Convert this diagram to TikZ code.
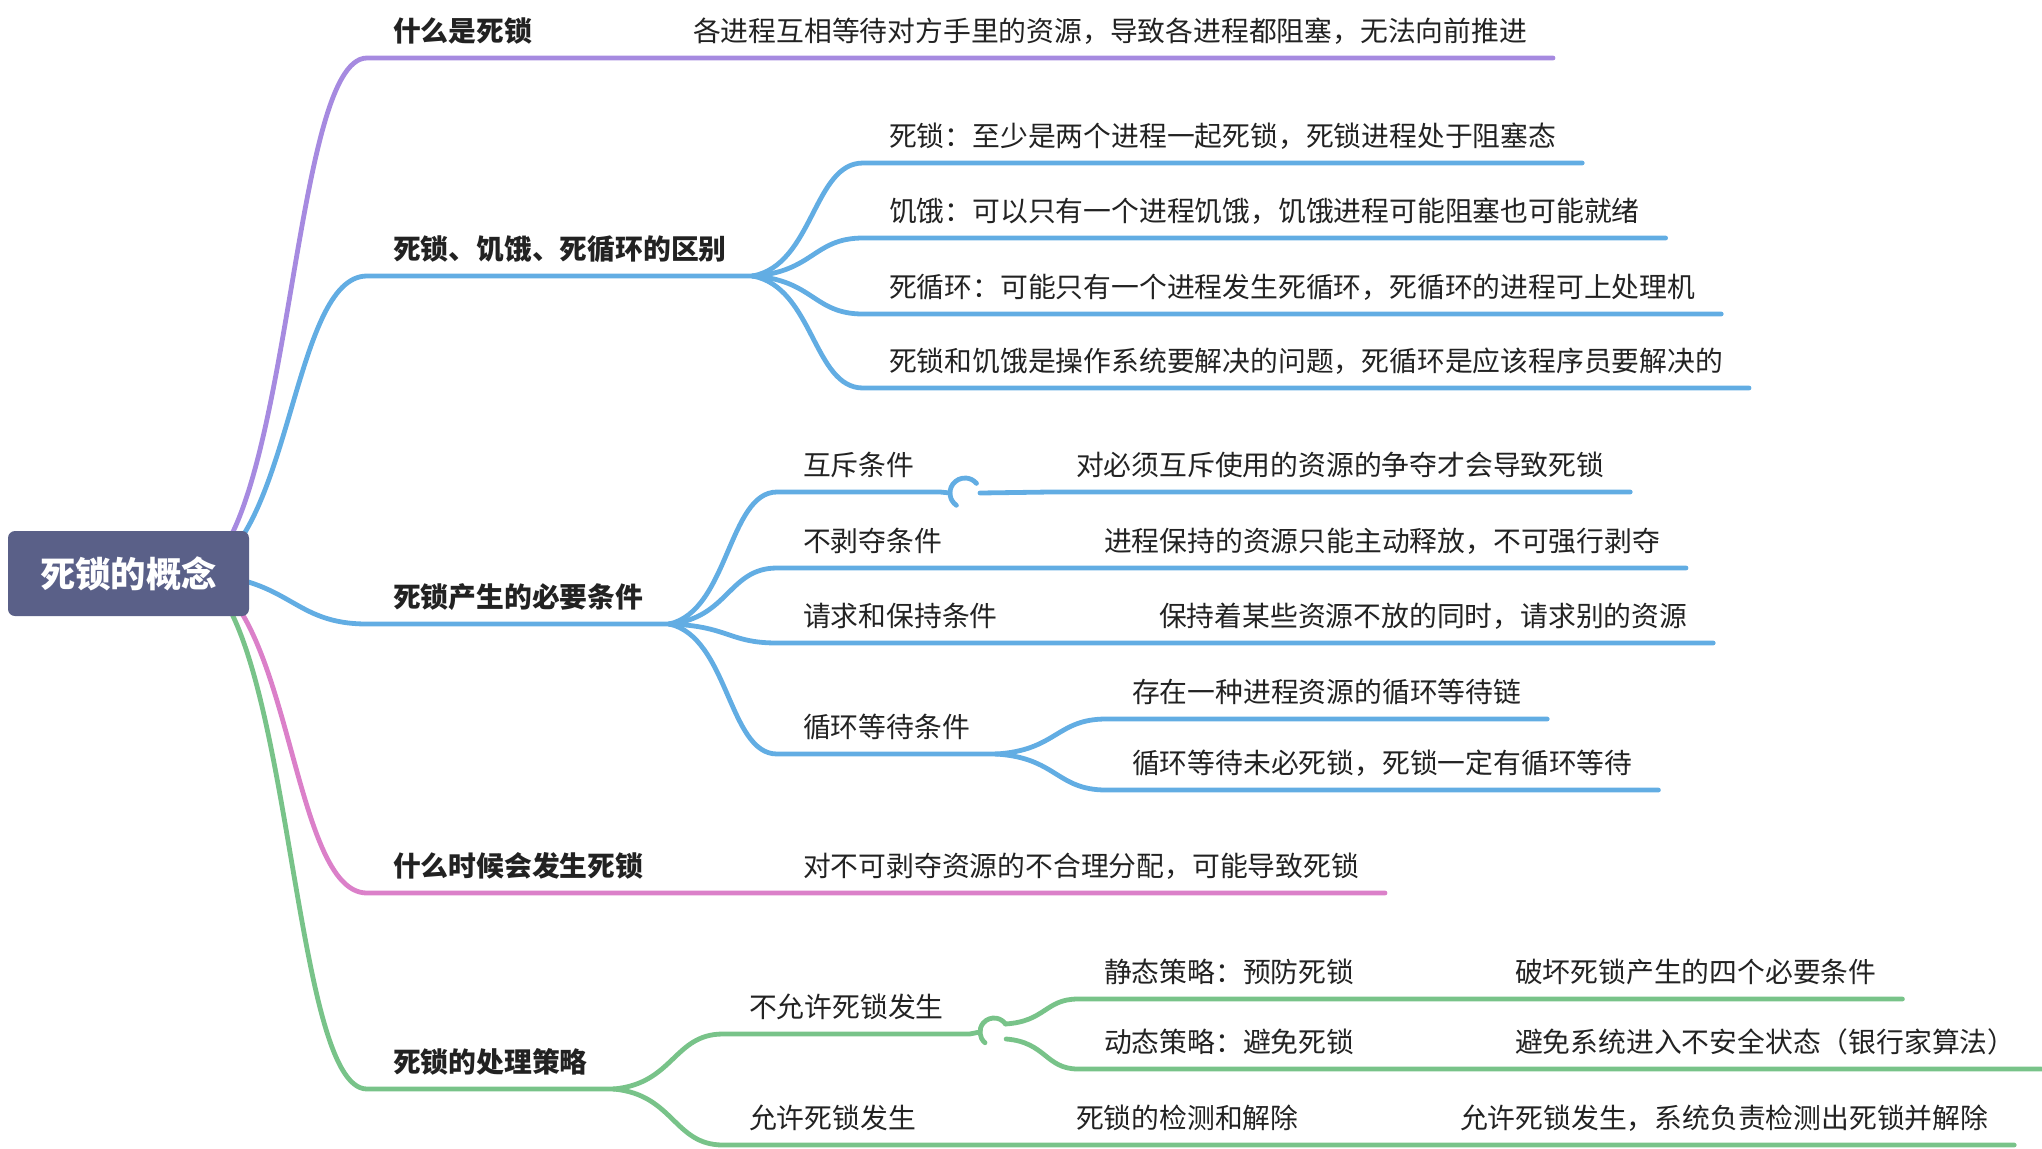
\documentclass[tikz,border=0pt]{standalone}
\usepackage{fontspec}
\setmainfont{Noto Sans CJK SC}
\usetikzlibrary{calc}

\definecolor{rootfill}{HTML}{5A6088}
\definecolor{purplebr}{HTML}{A68AE0}
\definecolor{bluebr}{HTML}{62ADE3}
\definecolor{pinkbr}{HTML}{DB80C9}
\definecolor{greenbr}{HTML}{78C389}
\definecolor{ink}{HTML}{222222}

\begin{document}
\begin{tikzpicture}[
  x=0.5pt,
  y=-0.5pt,
  branch/.style={line width=2.4pt, line cap=round, line join=round},
  purpleline/.style={branch, draw=purplebr},
  blueline/.style={branch, draw=bluebr},
  pinkline/.style={branch, draw=pinkbr},
  greenline/.style={branch, draw=greenbr},
  swoop/.style={to path={let \p1=(\tikztostart), \p2=(\tikztotarget) in
    .. controls ({\x1+0.55*(\x2-\x1)},{\y1+0.1*(\y2-\y1)})
       and ({\x1+0.55*(\x2-\x1)},\y2) .. (\tikztotarget)}},
  topic/.style={
    anchor=south west,
    inner xsep=13pt,
    inner ysep=8.5pt,
    outer sep=0pt,
    text depth=0pt,
    text=ink,
    font=\fontsize{13.9}{16}\selectfont
  },
  head/.style={topic, font=\fontsize{13.9}{16}\selectfont\bfseries},
  rootbox/.style={
    rounded corners=3.5pt,
    fill=rootfill,
    minimum width=120.5pt,
    minimum height=42.5pt,
    inner sep=0pt,
    text=white,
    font=\fontsize{17.7}{20}\selectfont\bfseries
  }
]
\useasboundingbox (0,0) rectangle (2042,1148);

% Coordinates are in pixels of the 2042x1148 layout, y grows downwards.
% Each topic node sits on its own underline (south west to south east).

\coordinate (hub)   at (200,574);
\coordinate (jumpa) at (965,493);
\coordinate (jumpb) at (994,1032);

\node[head] (what)   at (367,58)   {什么是死锁};
\node[head] (diff)   at (367,276)  {死锁、饥饿、死循环的区别};
\node[head] (cond)   at (367,624)  {死锁产生的必要条件};
\node[head] (when)   at (367,893)  {什么时候会发生死锁};
\node[head] (handle) at (367,1089) {死锁的处理策略};

\node[topic] (whatd) at (667,58) {各进程互相等待对方手里的资源，导致各进程都阻塞，无法向前推进};

\node[topic] (dead)   at (863,163) {死锁：至少是两个进程一起死锁，死锁进程处于阻塞态};
\node[topic] (starve) at (863,238) {饥饿：可以只有一个进程饥饿，饥饿进程可能阻塞也可能就绪};
\node[topic] (loop)   at (863,314) {死循环：可能只有一个进程发生死循环，死循环的进程可上处理机};
\node[topic] (who)    at (863,388) {死锁和饥饿是操作系统要解决的问题，死循环是应该程序员要解决的};

\node[topic] (mutex)   at (777,492)  {互斥条件};
\node[topic] (mutexd)  at (1050,492) {对必须互斥使用的资源的争夺才会导致死锁};
\node[topic] (nopre)   at (777,568)  {不剥夺条件};
\node[topic] (nopred)  at (1078,568) {进程保持的资源只能主动释放，不可强行剥夺};
\node[topic] (hold)    at (777,643)  {请求和保持条件};
\node[topic] (holdd)   at (1133,643) {保持着某些资源不放的同时，请求别的资源};
\node[topic] (circ)    at (777,754)  {循环等待条件};
\node[topic] (chain)   at (1106,719) {存在一种进程资源的循环等待链};
\node[topic] (notsure) at (1106,790) {循环等待未必死锁，死锁一定有循环等待};

\node[topic] (whend) at (777,893) {对不可剥夺资源的不合理分配，可能导致死锁};

\node[topic] (forbid)   at (723,1034)  {不允许死锁发生};
\node[topic] (static)   at (1078,999)  {静态策略：预防死锁};
\node[topic] (staticd)  at (1489,999)  {破坏死锁产生的四个必要条件};
\node[topic] (dynamic)  at (1078,1069) {动态策略：避免死锁};
\node[topic] (dynamicd) at (1489,1069) {避免系统进入不安全状态（银行家算法）};
\node[topic] (allow)    at (723,1145)  {允许死锁发生};
\node[topic] (detect)   at (1050,1145) {死锁的检测和解除};
\node[topic] (detectd)  at (1434,1145) {允许死锁发生，系统负责检测出死锁并解除};

% what
\draw[purpleline] (hub) to[swoop] (what.south west) -- (what.south east)
  -- (whatd.south west) -- (whatd.south east);

% differences
\draw[blueline] (hub) to[swoop] (diff.south west) -- (diff.south east);
\draw[blueline] (diff.south east) to[swoop] (dead.south west) -- (dead.south east);
\draw[blueline] (diff.south east) to[swoop] (starve.south west) -- (starve.south east);
\draw[blueline] (diff.south east) to[swoop] (loop.south west) -- (loop.south east);
\draw[blueline] (diff.south east) to[swoop] (who.south west) -- (who.south east);

% conditions
\draw[blueline] (hub) to[swoop] (cond.south west) -- (cond.south east);
\draw[blueline] (cond.south east) to[swoop] (mutex.south west) -- (mutex.south east)
  -- ([xshift=-7.5pt]jumpa);
\draw[blueline] (jumpa) ++(235:7.5pt) arc[start angle=235, end angle=40, radius=7.5pt];
\draw[blueline] ([xshift=7.5pt]jumpa) -- (mutexd.south west) -- (mutexd.south east);
\draw[blueline] (cond.south east) to[swoop] (nopre.south west) -- (nopre.south east)
  -- (nopred.south west) -- (nopred.south east);
\draw[blueline] (cond.south east) to[swoop] (hold.south west) -- (hold.south east)
  -- (holdd.south west) -- (holdd.south east);
\draw[blueline] (cond.south east) to[swoop] (circ.south west) -- (circ.south east);
\draw[blueline] (circ.south east) to[swoop] (chain.south west) -- (chain.south east);
\draw[blueline] (circ.south east) to[swoop] (notsure.south west) -- (notsure.south east);

% when
\draw[pinkline] (hub) to[swoop] (when.south west) -- (when.south east)
  -- (whend.south west) -- (whend.south east);

% handling
\draw[greenline] (hub) to[swoop] (handle.south west) -- (handle.south east);
\draw[greenline] (handle.south east) to[swoop] (forbid.south west) -- (forbid.south east)
  -- ([xshift=-7pt]jumpb);
\draw[greenline] (jumpb) ++(230:7pt) arc[start angle=230, end angle=35, radius=7pt];
\draw[greenline] ([shift={(35:7pt)}]jumpb) to[swoop] (static.south west) -- (static.south east)
  -- (staticd.south west) -- (staticd.south east);
\draw[greenline] ([shift={(-30:7pt)}]jumpb) to[swoop] (dynamic.south west) -- (dynamic.south east)
  -- (dynamicd.south west) -- (dynamicd.south east);
\draw[greenline] (handle.south east) to[swoop] (allow.south west) -- (allow.south east)
  -- (detect.south west) -- (detect.south east)
  -- (detectd.south west) -- (detectd.south east);

% root goes last so that it covers the start of the branches
\node[rootbox] (root) at (128.5,573.5) {死锁的概念};

\end{tikzpicture}
\end{document}
